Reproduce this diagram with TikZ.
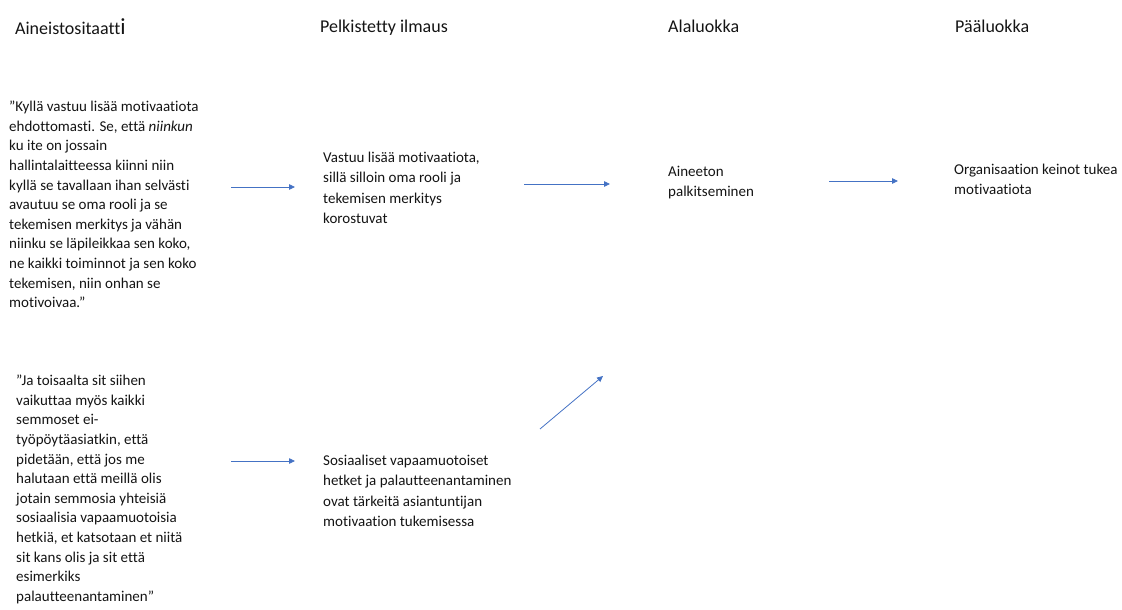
\documentclass[tikz,border=0pt]{standalone}
\usepackage{fontspec}
\setmainfont{Carlito}[Ligatures=NoCommon]
\usetikzlibrary{arrows.meta}
\definecolor{arrowblue}{HTML}{4472C4}
\definecolor{inkgray}{HTML}{141414}
\tikzset{
  head/.style={font=\fontsize{18}{22}\selectfont, text=inkgray, anchor=base west, inner sep=0pt},
  body/.style={font=\fontsize{15}{20.3}\selectfont, text=inkgray, anchor=north west, inner sep=0pt, align=left},
  quote/.style={body, font=\fontsize{15}{19.6}\selectfont},
  flow/.style={draw=arrowblue, line width=0.8pt, -{Triangle[length=6pt,width=5.5pt]}}
}
\begin{document}
\begin{tikzpicture}[x=1pt,y=-1pt]
  \useasboundingbox (0,0) rectangle (1122,610);

  % column headings
  \node[head] (h1) at (15,35) {Aineistositaatt{\fontsize{23}{23}\selectfont i}};
  \node[head] (h2) at (320,33) {Pelkistetty ilmaus};
  \node[head] (h3) at (668,33) {Alaluokka};
  \node[head] (h4) at (955,33) {Pääluokka};

  % quotations
  \node[quote] (q1) at (9,101) {”Kyllä vastuu lisää motivaatiota\\
ehdottomasti. Se, että \textit{niinkun}\\
ku ite on jossain\\
hallintalaitteessa kiinni niin\\
kyllä se tavallaan ihan selvästi\\
avautuu se oma rooli ja se\\
tekemisen merkitys ja vähän\\
niinku se läpileikkaa sen koko,\\
ne kaikki toiminnot ja sen koko\\
tekemisen, niin onhan se\\
motivoivaa.”};

  \node[quote] (q2) at (16,375) {”Ja toisaalta sit siihen\\
vaikuttaa myös kaikki\\
semmoset ei-\\
työpöytäasiatkin, että\\
pidetään, että jos me\\
halutaan että meillä olis\\
jotain semmosia yhteisiä\\
sosiaalisia vapaamuotoisia\\
hetkiä, et katsotaan et niitä\\
sit kans olis ja sit että\\
esimerkiks\\
palautteenantaminen”};

  % reduced expressions
  \node[body] (p1) at (323,152) {Vastuu lisää motivaatiota,\\
sillä silloin oma rooli ja\\
tekemisen merkitys\\
korostuvat};

  \node[body] (p2) at (323,455) {Sosiaaliset vapaamuotoiset\\
hetket ja palautteenantaminen\\
ovat tärkeitä asiantuntijan\\
motivaation tukemisessa};

  % sub-category and main category
  \node[body] (s1) at (668,166) {Aineeton\\palkitseminen};
  \node[body] (m1) at (954,164) {Organisaation keinot tukea\\motivaatiota};

  % connector end points
  \coordinate (a1s) at (231,187);  \coordinate (a1e) at (295,187);
  \coordinate (a2s) at (524,184);  \coordinate (a2e) at (610,184);
  \coordinate (a3s) at (829,181);  \coordinate (a3e) at (898,181);
  \coordinate (a4s) at (231,461);  \coordinate (a4e) at (295,461);
  \coordinate (a5s) at (540,429);  \coordinate (a5e) at (603,376);

  \draw[flow] (a1s) -- (a1e);
  \draw[flow] (a2s) -- (a2e);
  \draw[flow] (a3s) -- (a3e);
  \draw[flow] (a4s) -- (a4e);
  \draw[flow] (a5s) -- (a5e);
\end{tikzpicture}
\end{document}
